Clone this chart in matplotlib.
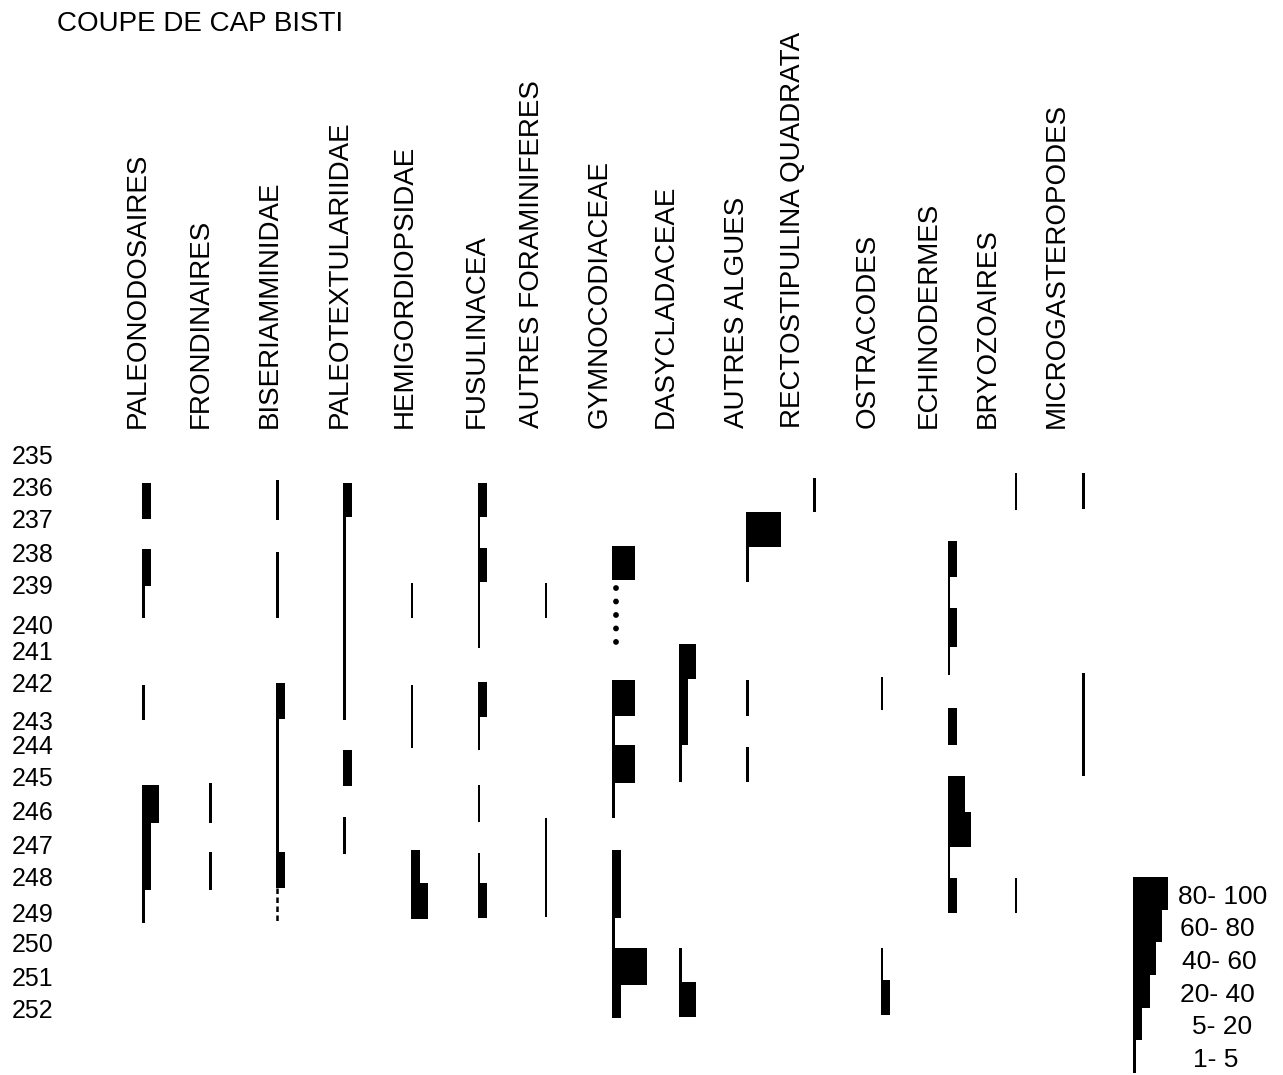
import numpy as np
import matplotlib
matplotlib.use("Agg")
import matplotlib.pyplot as plt
import matplotlib.transforms as mtransforms

plt.rcParams['font.family'] = ['Liberation Sans', 'DejaVu Sans']

# ---------------- data ----------------
title = "COUPE DE CAP BISTI"

samples = [235, 236, 237, 238, 239, 240, 241, 242, 243, 244,
           245, 246, 247, 248, 249, 250, 251, 252]
# stratigraphic position of each sample (arbitrary units, increasing downward)
sample_depth = [0.0, 3.2, 6.3, 9.8, 13.0, 17.0, 19.5, 22.8, 26.5, 29.0,
                32.2, 35.5, 39.0, 42.2, 45.8, 48.8, 52.2, 55.3]

taxa = ["PALEONODOSAIRES", "FRONDINAIRES", "BISERIAMMINIDAE",
        "PALEOTEXTULARIIDAE", "HEMIGORDIOPSIDAE", "FUSULINACEA",
        "AUTRES FORAMINIFERES", "GYMNOCODIACEAE", "DASYCLADACEAE",
        "AUTRES ALGUES", "RECTOSTIPULINA QUADRATA", "OSTRACODES",
        "ECHINODERMES", "BRYOZOAIRES", "MICROGASTEROPODES"]

# abundance classes (index 1..6)
class_labels = ["1- 5", "5- 20", "20- 40", "40- 60", "60- 80", "80- 100"]

# intervals: (top, bottom, abundance class)
paleonodosaires = [(2.8, 6.4, 2), (9.4, 13.1, 2), (13.1, 16.3, 1), (23.0, 26.5, 1),
                   (33.0, 36.8, 3), (36.8, 43.5, 2), (43.5, 46.8, 1)]
frondinaires = [(32.8, 36.8, 1), (39.7, 43.5, 1)]
biseriamminidae = [(2.5, 6.5, 1), (9.7, 16.3, 1), (22.8, 26.4, 2), (26.4, 39.7, 1),
                   (39.7, 43.3, 2)]
paleotextulariidae = [(2.8, 6.2, 2), (6.2, 26.5, 1), (29.5, 33.1, 2), (36.2, 39.9, 1)]
hemigordiopsidae = [(12.8, 16.3, 1), (23.0, 29.3, 1), (39.5, 42.8, 2), (42.8, 46.4, 3)]
fusulinacea = [(2.8, 6.2, 2), (6.2, 9.3, 1), (9.3, 12.7, 2), (12.7, 19.3, 1),
               (22.7, 26.2, 2), (26.2, 29.5, 1), (33.0, 36.7, 1), (39.8, 42.8, 1),
               (42.8, 46.3, 2)]
autres_foraminiferes = [(12.8, 16.3, 1), (36.3, 46.2, 1)]
gymnocodiaceae = [(9.1, 12.5, 4), (22.5, 26.1, 4), (26.1, 29.0, 1), (29.0, 32.8, 4),
                  (32.8, 36.3, 1), (39.5, 46.3, 2), (46.3, 49.3, 1), (49.3, 53.0, 6),
                  (53.0, 56.3, 2)]
dasycladaceae = [(18.9, 22.4, 3), (22.4, 29.0, 2), (29.0, 32.7, 1), (49.3, 52.7, 1),
                 (52.7, 56.2, 3)]
autres_algues = [(5.7, 9.2, 6), (9.2, 12.7, 1), (22.5, 26.1, 1), (29.2, 32.7, 1)]
rectostipulina = [(2.3, 5.7, 1)]
ostracodes = [(22.2, 25.5, 1), (49.3, 52.5, 1), (52.5, 56.0, 2)]
echinodermes = [(8.6, 12.2, 2), (12.2, 15.3, 1), (15.3, 19.2, 2), (19.2, 22.0, 1),
                (25.3, 29.0, 2), (32.1, 35.7, 3), (35.7, 39.2, 4), (39.2, 42.3, 1),
                (42.3, 45.8, 2)]
bryozoaires = [(1.8, 5.5, 1), (42.3, 45.8, 1)]
microgasteropodes = [(1.8, 5.4, 1), (21.8, 32.1, 1)]

# uncertain (dotted) occurrences: (top, bottom, abundance class)
uncertain_biseriamminidae = [(43.3, 46.7, 1)]
uncertain_gymnocodiaceae = [(13.3, 19.0, 2)]

records = [paleonodosaires, frondinaires, biseriamminidae, paleotextulariidae,
           hemigordiopsidae, fusulinacea, autres_foraminiferes, gymnocodiaceae,
           dasycladaceae, autres_algues, rectostipulina, ostracodes,
           echinodermes, bryozoaires, microgasteropodes]
uncertain = {2: uncertain_biseriamminidae, 7: uncertain_gymnocodiaceae}

# ---------------- layout / style ----------------
W, H = 1283, 1075
PX_PER_COL = 67.14            # column spacing in pixels
FIRST_COL_PX = 143.0          # baseline of first column in pixels
class_width_px = [2.6, 9, 17, 23, 29, 35]
label_x_px = [138, 201, 270, 340, 405, 477, 532, 600, 666, 737, 793, 868, 929, 988, 1057]
label_bottom = -2.7           # in depth units (just above sample 235)

fig = plt.figure(figsize=(W / 100, H / 100), dpi=100)
ax = fig.add_axes([0, 0, 1, 1])
ax.set_xlim(-FIRST_COL_PX / PX_PER_COL, (W - FIRST_COL_PX) / PX_PER_COL)
ax.set_ylim(62.0, -45.5)
ax.axis('off')

def wdata(px):
    return px / PX_PER_COL

for i, rec in enumerate(records):
    tops = np.array([r[0] for r in rec])
    bots = np.array([r[1] for r in rec])
    widths = np.array([wdata(class_width_px[r[2] - 1]) for r in rec])
    ax.barh((tops + bots) / 2, widths, height=bots - tops, left=i - wdata(1.0),
            color='black', linewidth=0)

for i, rec in uncertain.items():
    for top, bot, cls in rec:
        if cls == 1:
            ax.plot([i, i], [top, bot], color='black', lw=1.8,
                    linestyle=(0, (2.2, 1.4)), solid_capstyle='butt')
        else:
            ax.plot([i + wdata(3), i + wdata(3)], [top, bot], color='black', lw=4.2,
                    linestyle=(0, (0.01, 2.3)), dash_capstyle='round')

# column headers
xa_yd = mtransforms.blended_transform_factory(ax.transAxes, ax.transData)
for name, lx in zip(taxa, label_x_px):
    ax.text(lx / W, label_bottom, name, rotation=90, ha='center', va='bottom',
            fontsize=20, transform=xa_yd)

# sample labels
for s, d in zip(samples, sample_depth):
    ax.text(12 / W, d, str(s), ha='left', va='center_baseline', fontsize=18,
            transform=xa_yd)

# title
fig.text(57 / W, 1 - 24 / H, title, ha='left', va='center', fontsize=20)

# legend of abundance classes (80-100 at top)
leg_left, leg_top, leg_bottom = 1133, 877, 1073
lax = fig.add_axes([leg_left / W, 1 - leg_bottom / H, (W - leg_left) / W,
                    (leg_bottom - leg_top) / H])
lax.set_xlim(0, W - leg_left)
lax.set_ylim(-0.5, len(class_labels) - 0.5)
lax.axis('off')
rows = np.arange(len(class_labels))
lax.barh(rows, class_width_px, height=1.0, left=0, color='black', linewidth=0)
legend_text_x = [60, 59, 47, 49, 47, 45]
for r, lab, tx in zip(rows, class_labels, legend_text_x):
    lax.text(tx, r - 0.1, lab, ha='left', va='center', fontsize=19)

fig.savefig("out.png", dpi=100, facecolor='white')
